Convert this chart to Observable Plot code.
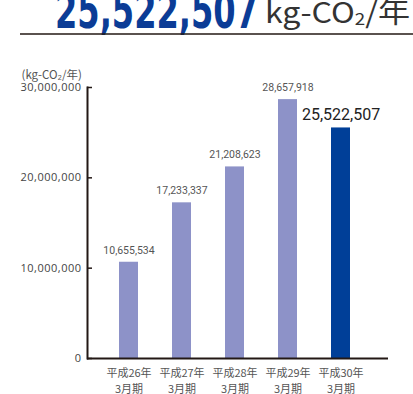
<!DOCTYPE html>
<html><head><meta charset="utf-8">
<script src="https://cdn.jsdelivr.net/npm/d3@7"></script>
<script src="https://cdn.jsdelivr.net/npm/@observablehq/plot@0.6"></script>
<style>
body{margin:0;background:#fff;}
#wrap{position:relative;width:413px;height:394px;overflow:hidden;font-family:"Noto Sans CJK JP",sans-serif;}
#head{position:absolute;left:0;top:0;}
#chart{position:absolute;left:0;top:40px;}
#chart g[aria-label="y-axis tick label"] text{letter-spacing:0.5px;}
</style></head><body>
<div id="wrap">
<svg id="head" width="413" height="40"></svg>
<div id="chart"></div>
</div>
<script>
const years = ["平成26年", "平成27年", "平成28年", "平成29年", "平成30年"];
const term = "3月期";
const values = [10655534, 17233337, 21208623, 28657918, 25522507];
const yTicks = [0, 10000000, 20000000, 30000000];
const unitLabel = "(kg-CO₂/年)";
const unitMain = "kg-CO";
const unitSub = "2";
const unitTail = "/年";

const fmt = d3.format(",");
const labels = years.map(y => y + "\n" + term);
const data = years.map((y, i) => ({period: labels[i], value: values[i], latest: i === years.length - 1}));

// header
const head = d3.select("#head");
head.append("text")
  .attr("x", 55).attr("y", 28)
  .attr("font-family", "DejaVu Sans Condensed").attr("font-weight", "bold")
  .attr("font-size", 50).attr("fill", "#0b3c96")
  .attr("textLength", 203).attr("lengthAdjust", "spacingAndGlyphs")
  .text(fmt(values[values.length - 1]));
const u = head.append("text")
  .attr("x", 265).attr("y", 23)
  .attr("font-family", "Noto Sans CJK JP").attr("font-size", 29).attr("fill", "#333")
  .attr("textLength", 145).attr("lengthAdjust", "spacingAndGlyphs");
u.append("tspan").text(unitMain);
u.append("tspan").attr("font-size", 17).attr("dy", 2).text(unitSub);
u.append("tspan").attr("dy", -2).text(unitTail);
head.append("line").attr("x1", 20).attr("x2", 413).attr("y1", 34).attr("y2", 34)
  .attr("stroke", "#231815").attr("stroke-width", 1.5);

const chart = Plot.plot({
  width: 413,
  height: 354,
  marginTop: 47,
  marginBottom: 36,
  marginLeft: 87,
  marginRight: 25,
  style: {fontFamily: "Noto Sans CJK JP, sans-serif", background: "transparent"},
  x: {domain: labels, range: [100.5, 368], paddingInner: 0.645, paddingOuter: 0.3225},
  y: {domain: [0, 30000000]},
  marks: [
    Plot.barY(data, {x: "period", y: "value", fill: d => d.latest ? "#003f98" : "#8d92c8"}),
    Plot.tickY(yTicks, {y: d => d, insetRight: 296, stroke: "#231815", strokeWidth: 1.5}),
    Plot.axisY({ticks: yTicks, tickSize: 0, tickPadding: 6, tickFormat: fmt, fontSize: 11, fill: "#444", fontFamily: "Open Sans", label: null}),
    Plot.axisX({tickSize: 0, tickPadding: 8, fontSize: 11, lineHeight: 1.4, fill: "#555", label: null}),
    Plot.frame({anchor: "left", stroke: "#231815", strokeWidth: 2}),
    Plot.ruleY([0], {stroke: "#231815", strokeWidth: 2}),
    Plot.text(data.filter(d => !d.latest), {x: "period", y: "value", text: d => fmt(d.value), dy: -12, fontSize: 10.5, fill: "#555", fontFamily: "Roboto"}),
    Plot.text(data.filter(d => d.latest), {x: "period", y: "value", text: d => fmt(d.value), dy: -13, fontSize: 16, fill: "#222", fontFamily: "Roboto"}),
    Plot.text([unitLabel], {frameAnchor: "top-left", textAnchor: "start", dx: -66, dy: -17, fontSize: 11.5, fill: "#555"})
  ]
});
document.getElementById("chart").appendChild(chart);
</script>
</body></html>
